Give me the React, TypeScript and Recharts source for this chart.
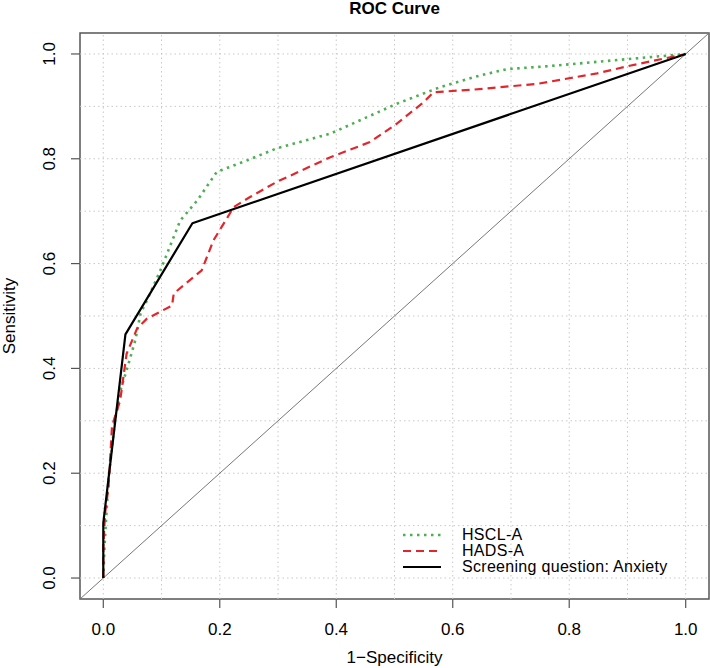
import React from 'react';
import { ComposedChart, Line, XAxis, YAxis, ReferenceLine, ReferenceArea, Legend } from 'recharts';

const xTicks = [0, 0.2, 0.4, 0.6, 0.8, 1.0];
const yTicks = [0, 0.2, 0.4, 0.6, 0.8, 1.0];
const gridValues = [0, 0.1, 0.2, 0.3, 0.4, 0.5, 0.6, 0.7, 0.8, 0.9, 1.0];

const hsclX = [0, 0.002, 0.009, 0.02, 0.03, 0.041, 0.055, 0.064, 0.075, 0.098, 0.132, 0.161, 0.195, 0.247, 0.298, 0.39, 0.504, 0.579, 0.647, 0.693, 0.767, 1];
const hsclY = [0, 0.06, 0.19, 0.3, 0.36, 0.4, 0.454, 0.505, 0.53, 0.587, 0.682, 0.72, 0.775, 0.797, 0.82, 0.848, 0.905, 0.937, 0.959, 0.971, 0.977, 1];

const hadsX = [0, 0, 0.003, 0.009, 0.015, 0.029, 0.04, 0.058, 0.075, 0.118, 0.121, 0.169, 0.189, 0.224, 0.252, 0.298, 0.39, 0.458, 0.504, 0.55, 0.567, 0.636, 0.745, 0.848, 0.906, 1];
const hadsY = [0, 0.06, 0.123, 0.174, 0.29, 0.339, 0.428, 0.476, 0.495, 0.52, 0.543, 0.587, 0.644, 0.708, 0.727, 0.756, 0.803, 0.832, 0.867, 0.908, 0.927, 0.932, 0.943, 0.963, 0.978, 1];

const screenX = [0, 0, 0.038, 0.153, 1];
const screenY = [0, 0.105, 0.465, 0.677, 1];

const diagX = [-0.04, 1.04];
const diagY = [-0.04, 1.04];

const toPts = (xs: number[], ys: number[]) => xs.map((x, i) => ({ x, y: ys[i] }));

const series = [
  { name: 'HSCL-A', data: toPts(hsclX, hsclY), color: '#4CAF50', width: 2.6, dash: '2.5 4.5' },
  { name: 'HADS-A', data: toPts(hadsX, hadsY), color: '#E3262B', width: 2.2, dash: '8 5' },
  { name: 'Screening question: Anxiety', data: toPts(screenX, screenY), color: '#000000', width: 2.2, dash: undefined as string | undefined },
];

const FONT = '"Liberation Sans", Arial, sans-serif';
const FS = 17;

const YTick = (props: any) => {
  const { x, y, payload } = props;
  return (
    <text x={x} y={y} transform={`rotate(-90, ${x}, ${y})`} textAnchor="middle" dominantBaseline="central" fontSize={FS} fontFamily={FONT} fill="#000">
      {Number(payload.value).toFixed(1)}
    </text>
  );
};

const LegendContent = () => (
  <div style={{ fontFamily: FONT, fontSize: 16, lineHeight: '16px', color: '#000' }}>
    {series.map((s) => (
      <div key={s.name} style={{ display: 'flex', alignItems: 'center', height: 16 }}>
        <svg width={40} height={16} style={{ display: 'block' }}>
          <line x1={2} y1={8} x2={40} y2={8} stroke={s.color} strokeWidth={s.width} strokeDasharray={s.dash} />
        </svg>
        <span style={{ marginLeft: 21, whiteSpace: 'nowrap', letterSpacing: '0.3px' }}>{s.name}</span>
      </div>
    ))}
  </div>
);

export default function App() {
  return (
    <div style={{ position: 'absolute', left: 0, top: 0, width: 710, height: 668, background: '#fff' }}>
      <div style={{ position: 'absolute', left: 80, top: 0, width: 629, textAlign: 'center', fontFamily: FONT, fontWeight: 'bold', fontSize: FS, lineHeight: '18px' }}>
        ROC Curve
      </div>
      <ComposedChart width={710} height={668} margin={{ top: 33, right: 1, bottom: 0, left: 0 }}>
        <XAxis
          dataKey="x"
          type="number"
          domain={[-0.04, 1.04]}
          ticks={xTicks}
          allowDataOverflow
          axisLine={false}
          tickLine={{ stroke: '#555', strokeWidth: 1.2 }}
          tickSize={9}
          tickMargin={15}
          height={69}
          tick={{ fontSize: FS, fontFamily: FONT, fill: '#000' }}
          tickFormatter={(v: number) => v.toFixed(1)}
          label={{
            content: (p: any) => (
              <text x={p.viewBox.x + p.viewBox.width / 2} y={p.viewBox.y + 58} textAnchor="middle" dominantBaseline="central" fontSize={FS} fontFamily={FONT} fill="#000">
                1−Specificity
              </text>
            ),
          }}
        />
        <YAxis
          dataKey="y"
          type="number"
          domain={[-0.04, 1.04]}
          ticks={yTicks}
          allowDataOverflow
          axisLine={false}
          tickLine={{ stroke: '#555', strokeWidth: 1.2 }}
          tickSize={9}
          tickMargin={21}
          width={80}
          tick={<YTick />}
          label={{
            content: (p: any) => {
              const cx = p.viewBox.x + 9;
              const cy = p.viewBox.y + p.viewBox.height / 2;
              return (
                <text x={cx} y={cy} transform={`rotate(-90, ${cx}, ${cy})`} textAnchor="middle" dominantBaseline="central" fontSize={FS} fontFamily={FONT} fill="#000">
                  Sensitivity
                </text>
              );
            },
          }}
        />
        {gridValues.map((v) => (
          <ReferenceLine key={'gx' + v} x={v} stroke="#c8c8c8" strokeWidth={1} strokeDasharray="1.5 3" />
        ))}
        {gridValues.map((v) => (
          <ReferenceLine key={'gy' + v} y={v} stroke="#c8c8c8" strokeWidth={1} strokeDasharray="1.5 3" />
        ))}
        <Line data={toPts(diagX, diagY)} dataKey="y" stroke="#777" strokeWidth={1} dot={false} isAnimationActive={false} legendType="none" />
        {series.map((s) => (
          <Line
            key={s.name}
            name={s.name}
            data={s.data}
            dataKey="y"
            stroke={s.color}
            strokeWidth={s.width}
            strokeDasharray={s.dash}
            dot={false}
            activeDot={false}
            isAnimationActive={false}
            strokeLinejoin="round"
          />
        ))}
        <ReferenceArea x1={-0.04} x2={1.04} y1={-0.04} y2={1.04} fill="none" fillOpacity={0} stroke="#555" strokeWidth={1.5} />
        <Legend
          layout="horizontal"
          verticalAlign="middle"
          content={<LegendContent />}
          wrapperStyle={{ position: 'absolute', left: 401, top: 527, width: 300, height: 48 }}
        />
      </ComposedChart>
    </div>
  );
}
